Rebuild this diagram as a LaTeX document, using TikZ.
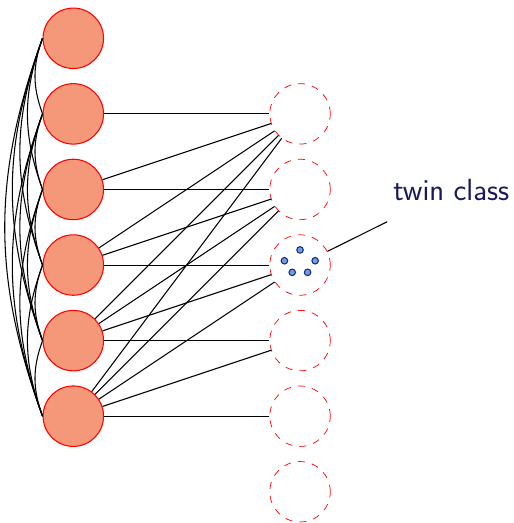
\documentclass[tikz,border=0pt]{standalone}
\usepackage{tikz}
\usetikzlibrary{calc}
\usepackage{xcolor}
\definecolor{vfill}{RGB}{245,152,122}
\definecolor{twinfill}{RGB}{110,160,220}
\definecolor{twindraw}{RGB}{30,40,130}
\definecolor{labelblue}{RGB}{25,25,95}

\begin{document}
\begin{tikzpicture}[semithick,
	vert/.style={circle, draw=red, fill=vfill, minimum size=1.2cm, inner sep=0pt},
	slot/.style={circle, draw=red, thin, dash pattern=on 4pt off 4pt, minimum size=1.2cm, inner sep=0pt},
	twin/.style={circle, draw=twindraw, fill=twinfill, minimum size=0.13cm, inner sep=0pt, line width=0.6pt}]
	\useasboundingbox (-1.455,0.76) rectangle (8.745,-9.62);
	\foreach \i in {1,...,6}{
		\node[name=L\i, vert] at (0,{-1.5*(\i-1)}) {};
		\node[name=R\i, slot] at (4.5,{-1.5*\i}) {};
	}
	% clique on the left, edges to the right
	\foreach \i in {1,...,5}{
		\pgfmathtruncatemacro{\k}{\i+1}
		\foreach \j in {\k,...,6}{
			\draw (L\i.west) to[bend right=20] (L\j.west);
			\draw (L\j) -- (R\i);
		}
	}
	\foreach \x/\y [count=\n] in {0/0.3, -0.31/0.085, 0.3/0.085, -0.155/-0.145, 0.15/-0.145}
		\node[name=t\n, twin] at ($(R3)+(\x,\y)$) {};
	\coordinate (tip) at (6.23,-3.64);
	\node[name=lbl, text=labelblue, font=\sffamily\LARGE] at (7.5,-3.01) {twin class};
	\draw (R3) -- (tip);
\end{tikzpicture}
\end{document}
